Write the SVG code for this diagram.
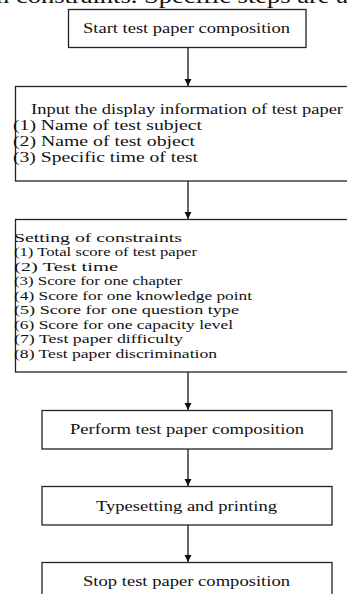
<svg xmlns="http://www.w3.org/2000/svg" width="347" height="594" viewBox="0 0 347 594">
<defs>
<style>
.box{fill:#fff;stroke:#222;stroke-width:1.3}
.t{font-family:"Liberation Serif","Times New Roman",serif;fill:#111}
.c{stroke:#333;stroke-width:1.5;fill:none}
</style>
<marker id="ah" markerWidth="8" markerHeight="8" refX="7" refY="4" orient="auto" markerUnits="userSpaceOnUse">
<path d="M0,0.5 L7,4 L0,7.5 Z" fill="#111"/>
</marker>
</defs>
<rect width="347" height="594" fill="#fff"/>
<text class="t" x="-4" y="3" font-size="20" textLength="352" lengthAdjust="spacingAndGlyphs">n constraints. Specific steps are a</text>
<g id="connectors">
<line class="c" x1="188" y1="47" x2="188" y2="86" marker-end="url(#ah)"/>
<line class="c" x1="188" y1="181" x2="188" y2="219" marker-end="url(#ah)"/>
<line class="c" x1="188" y1="372" x2="188" y2="410" marker-end="url(#ah)"/>
<line class="c" x1="188" y1="449" x2="188" y2="486" marker-end="url(#ah)"/>
<line class="c" x1="188" y1="525" x2="188" y2="562" marker-end="url(#ah)"/>
</g>
<g id="start">
<rect class="box" x="68.5" y="9.5" width="237.5" height="38"/>
<text class="t" x="83" y="33" font-size="14" textLength="207" lengthAdjust="spacingAndGlyphs">Start test paper composition</text>
</g>
<g id="input">
<rect class="box" x="15.5" y="86.5" width="340" height="94.5"/>
<text class="t" x="31" y="114" font-size="14" textLength="312" lengthAdjust="spacingAndGlyphs">Input the display information of test paper</text>
<text class="t" x="13" y="130" font-size="14" textLength="189" lengthAdjust="spacingAndGlyphs">(1) Name of test subject</text>
<text class="t" x="13" y="146" font-size="14" textLength="182" lengthAdjust="spacingAndGlyphs">(2) Name of test object</text>
<text class="t" x="13" y="162" font-size="14" textLength="185" lengthAdjust="spacingAndGlyphs">(3) Specific time of test</text>
</g>
<g id="constraints">
<rect class="box" x="15.5" y="219.5" width="340" height="152.5"/>
<text class="t" x="14" y="242" font-size="13" textLength="168" lengthAdjust="spacingAndGlyphs">Setting of constraints</text>
<g font-size="11.5" class="t">
<text x="14" y="256" textLength="183" lengthAdjust="spacingAndGlyphs">(1) Total score of test paper</text>
<text x="14" y="270.5" textLength="104" lengthAdjust="spacingAndGlyphs">(2) Test time</text>
<text x="14" y="285" textLength="168" lengthAdjust="spacingAndGlyphs">(3) Score for one chapter</text>
<text x="14" y="299.5" textLength="238" lengthAdjust="spacingAndGlyphs">(4) Score for one knowledge point</text>
<text x="14" y="314" textLength="225" lengthAdjust="spacingAndGlyphs">(5) Score for one question type</text>
<text x="14" y="328.5" textLength="219" lengthAdjust="spacingAndGlyphs">(6) Score for one capacity level</text>
<text x="14" y="343" textLength="169" lengthAdjust="spacingAndGlyphs">(7) Test paper difficulty</text>
<text x="14" y="357.5" textLength="203" lengthAdjust="spacingAndGlyphs">(8) Test paper discrimination</text>
</g>
</g>
<g id="perform">
<rect class="box" x="42" y="410.5" width="290" height="38.5"/>
<text class="t" x="70" y="434" font-size="14" textLength="234" lengthAdjust="spacingAndGlyphs">Perform test paper composition</text>
</g>
<g id="typeset">
<rect class="box" x="42" y="486.5" width="290" height="38.5"/>
<text class="t" x="96" y="511" font-size="14" textLength="181" lengthAdjust="spacingAndGlyphs">Typesetting and printing</text>
</g>
<g id="stop">
<rect class="box" x="42" y="562.5" width="290" height="40"/>
<text class="t" x="83" y="586" font-size="14" textLength="207" lengthAdjust="spacingAndGlyphs">Stop test paper composition</text>
</g>
</svg>
